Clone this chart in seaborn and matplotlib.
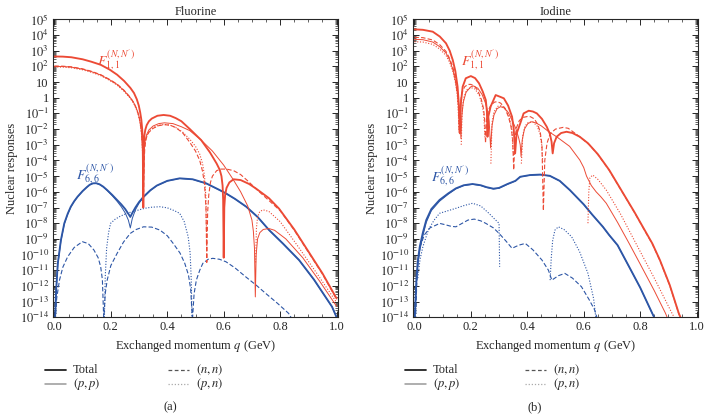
import numpy as np
import pandas as pd
import matplotlib
matplotlib.use("Agg")
import matplotlib.pyplot as plt
import seaborn as sns
from matplotlib.lines import Line2D
from matplotlib.ticker import FixedLocator, MultipleLocator, LogLocator, NullFormatter

# ==========================================
# Data (q in GeV, values as log10 of the response; None = gap)
# ==========================================

# ---- Fluorine, F_{1,1} ----
fl_tot11_q = [0, 0.03, 0.06, 0.1, 0.13, 0.164, 0.195, 0.222, 0.247, 0.269, 0.282, 0.292, 0.299, 0.304, 0.308,
              0.311, 0.313, 0.315, 0.317, 0.319, 0.322, 0.327, 0.335, 0.345, 0.365, 0.387, 0.41, 0.43, 0.45, 0.48,
              0.52, 0.551, 0.575, 0.586, 0.592, 0.596, 0.598, 0.600, 0.602, 0.605, 0.61, 0.62, 0.635, 0.66, 0.69,
              0.715, 0.76, 0.796, 0.85, 0.9, 0.95, 1.0]
fl_tot11_v = [2.63, 2.62, 2.58, 2.45, 2.3, 2.1, 1.8, 1.47, 1.07, 0.63, 0.3, -0.1, -0.5, -0.94, -1.4,
              -2.0, -2.8, -7.0, -3.2, -2.4, -2.05, -1.75, -1.5, -1.33, -1.15, -1.1, -1.15, -1.3, -1.5, -2.0,
              -2.7, -3.48, -4.2, -4.6, -5.0, -5.6, -6.5, -10.2, -7.0, -6.2, -5.75, -5.4, -5.2, -5.25, -5.5,
              -5.8, -6.4, -7.07, -8.4, -9.8, -11.2, -12.8]

fl_pp11_q = [0, 0.03, 0.06, 0.1, 0.13, 0.164, 0.195, 0.222, 0.247, 0.269, 0.282, 0.292, 0.299, 0.304, 0.308,
             0.311, 0.313, 0.315, 0.317, 0.319, 0.322, 0.327, 0.335, 0.35, 0.37, 0.39, 0.42, 0.45, 0.48, 0.52,
             0.56, 0.60, 0.633, 0.66, 0.685, 0.70, 0.705, 0.709, 0.712, 0.715, 0.72, 0.728, 0.74, 0.76, 0.78,
             0.82, 0.88, 0.94, 1.0]
fl_pp11_v = [2.0, 1.99, 1.95, 1.82, 1.67, 1.45, 1.15, 0.85, 0.45, 0.0, -0.35, -0.75, -1.15, -1.6, -2.1,
             -2.8, -3.6, -6.5, -4.0, -3.1, -2.7, -2.35, -2.05, -1.8, -1.65, -1.6, -1.65, -1.85, -2.1, -2.7,
             -3.4, -4.3, -5.2, -6.0, -6.9, -7.8, -8.5, -9.6, -12.7, -10.0, -9.0, -8.6, -8.4, -8.34, -8.45,
             -9.0, -10.2, -11.7, -13.3]

fl_nn11_q = [0, 0.03, 0.06, 0.1, 0.13, 0.164, 0.195, 0.222, 0.247, 0.269, 0.282, 0.292, 0.299, 0.304, 0.308,
             0.311, 0.313, 0.316, 0.318, 0.32, 0.323, 0.327, 0.335, 0.35, 0.37, 0.39, 0.41, 0.43, 0.455, 0.48,
             0.50, 0.515, 0.525, 0.532, 0.537, 0.54, 0.543, 0.547, 0.553, 0.56, 0.575, 0.59, 0.61, 0.635, 0.66,
             0.685, 0.72, 0.76, 0.8, 0.85, 0.9, 0.95, 1.0]
fl_nn11_v = [2.02, 2.01, 1.97, 1.84, 1.69, 1.47, 1.17, 0.87, 0.47, 0.02, -0.33, -0.73, -1.13, -1.58, -2.08,
             -2.75, -3.5, -6.0, -4.2, -3.3, -2.8, -2.5, -2.2, -1.95, -1.78, -1.72, -1.75, -1.9, -2.25, -2.85,
             -3.4, -4.0, -4.7, -5.5, -7.0, -10.5, -7.3, -6.2, -5.4, -5.0, -4.65, -4.55, -4.55, -4.65, -4.9,
             -5.3, -5.9, -6.55, -7.2, -8.45, -9.85, -11.25, -12.85]

fl_pn11_q = [0, 0.03, 0.06, 0.1, 0.13, 0.164, 0.195, 0.222, 0.247, 0.269, 0.282, 0.292, 0.299, 0.304, 0.308,
             0.311, 0.313, 0.315, 0.317, 0.319, 0.322, 0.327, 0.335, 0.35, 0.37, 0.39, 0.41, 0.43, 0.455, 0.48,
             0.50, 0.515, 0.525, 0.532, 0.537, 0.54, None,
             0.713, 0.716, 0.72, 0.728, 0.74, 0.76, 0.8, 0.86, 0.93, 1.0]
fl_pn11_v = [1.96, 1.95, 1.91, 1.78, 1.63, 1.41, 1.11, 0.81, 0.41, -0.04, -0.4, -0.8, -1.2, -1.65, -2.2,
             -2.9, -3.8, -5.5, -3.9, -3.2, -2.8, -2.45, -2.15, -1.9, -1.75, -1.7, -1.75, -1.9, -2.2, -2.65,
             -3.1, -3.6, -4.2, -5.0, -6.4, -9.5, None,
             -10.5, -8.3, -7.6, -7.25, -7.15, -7.25, -7.9, -9.4, -11.2, -13.05]

# ---- Fluorine, F_{6,6} ----
fl_tot66_q = [0.002, 0.006, 0.012, 0.023, 0.035, 0.047, 0.058, 0.07, 0.082, 0.1, 0.115, 0.125, 0.136, 0.148, 0.16,
              0.173, 0.187, 0.205, 0.222, 0.237, 0.251, 0.262, 0.269, 0.276, 0.287, 0.3, 0.316, 0.34, 0.363, 0.4,
              0.444, 0.49, 0.538, 0.586, 0.608, 0.64, 0.68, 0.72, 0.761, 0.81, 0.867, 0.92, 0.984, 1.0]
fl_tot66_v = [-14.2, -12.3, -10.56, -9.08, -8.01, -7.4, -6.95, -6.6, -6.31, -5.95, -5.7, -5.55, -5.46, -5.45, -5.52,
              -5.67, -5.89, -6.2, -6.52, -6.8, -7.1, -7.4, -7.6, -7.35, -7.0, -6.65, -6.31, -5.9, -5.6, -5.3,
              -5.14, -5.2, -5.46, -5.89, -6.1, -6.45, -6.95, -7.6, -8.44, -9.3, -10.35, -11.6, -13.33, -14.0]

fl_pp66_q = [0.002, 0.006, 0.012, 0.023, 0.035, 0.047, 0.058, 0.07, 0.082, 0.1, 0.115, 0.125, 0.136, 0.148, 0.16,
             0.173, 0.187, 0.205, 0.222, 0.237, 0.251, 0.262, 0.269, 0.276, 0.287, 0.3, 0.316, 0.34, 0.363, 0.4,
             0.444, 0.49, 0.538, 0.586, 0.608, 0.64, 0.68, 0.72, 0.761, 0.81, 0.867, 0.92, 0.984, 1.0]
fl_pp66_v = [-14.2, -12.4, -10.65, -9.15, -8.06, -7.44, -6.98, -6.62, -6.33, -5.96, -5.71, -5.56, -5.47, -5.46, -5.53,
             -5.69, -5.92, -6.25, -6.6, -6.95, -7.35, -7.8, -8.3, -7.7, -7.15, -6.72, -6.35, -5.92, -5.61, -5.31,
             -5.15, -5.21, -5.47, -5.9, -6.11, -6.46, -6.96, -7.61, -8.45, -9.31, -10.36, -11.61, -13.34, -14.0]

fl_nn66_q = [0.003, 0.008, 0.018, 0.03, 0.047, 0.07, 0.099, 0.12, 0.14, 0.155, 0.164, 0.17, 0.175, 0.18, 0.187,
             0.2, 0.222, 0.245, 0.269, 0.29, 0.316, 0.345, 0.374, 0.4, 0.421, 0.445, 0.462, 0.475, 0.483, 0.489,
             0.495, 0.503, 0.515, 0.526, 0.545, 0.561, 0.585, 0.608, 0.64, 0.678, 0.715, 0.749, 0.79, 0.83, 0.845]
fl_nn66_v = [-14.2, -12.8, -11.63, -10.8, -10.14, -9.55, -9.18, -9.3, -9.71, -10.2, -10.78, -11.6, -14.2, -12.5, -11.63,
             -10.7, -9.93, -9.2, -8.65, -8.4, -8.23, -8.25, -8.44, -8.8, -9.29, -9.9, -10.56, -11.3, -12.2, -14.2,
             -12.5, -11.63, -11.0, -10.56, -10.3, -10.24, -10.3, -10.46, -10.85, -11.42, -11.95, -12.48, -13.1, -13.75, -14.2]

fl_pn66_q = [0.177, 0.18, 0.185, 0.192, 0.199, 0.215, 0.234, 0.26, 0.29, 0.32, 0.345, 0.374, 0.4, 0.425, 0.444,
             0.46, 0.474, 0.481, 0.485, 0.488]
fl_pn66_v = [-14.2, -11.5, -9.6, -8.6, -8.01, -7.75, -7.55, -7.35, -7.2, -7.05, -6.98, -6.95, -7.02, -7.2, -7.37,
             -7.9, -8.86, -9.9, -11.63, -14.2]

# ---- Iodine, F_{1,1} ----
io_tot11_q = [0, 0.03, 0.065, 0.09, 0.112, 0.125, 0.136, 0.145, 0.153, 0.157, 0.161, 0.165, 0.171, 0.182, 0.2,
              0.215, 0.229, 0.242, 0.253, 0.257, 0.259, 0.262, 0.27, 0.288, 0.305, 0.317, 0.332, 0.346, 0.352, 0.357,
              0.362, 0.375, 0.387, 0.405, 0.42, 0.434, 0.452, 0.469, 0.48, 0.486, 0.49, 0.495, 0.504, 0.52, 0.539,
              0.56, 0.586, 0.615, 0.65, 0.69, 0.726, 0.78, 0.81, 0.843, 0.87, 0.905, 0.937, 0.95]
io_tot11_v = [4.36, 4.33, 4.21, 3.9, 3.47, 3.0, 2.4, 1.7, 0.7, -0.3, -2.27, -0.3, 0.7, 1.24, 1.38,
              1.25, 0.92, 0.4, -0.15, -0.9, -2.49, -1.2, -0.57, 0.17, 0.05, -0.04, -0.5, -1.21, -2.0, -3.55,
              -2.3, -1.64, -1.0, -0.83, -0.88, -1.0, -1.35, -1.85, -2.3, -2.8, -3.55, -2.9, -2.49, -2.25, -2.17,
              -2.25, -2.49, -2.9, -3.6, -4.6, -5.68, -7.3, -8.25, -9.29, -10.35, -11.95, -13.75, -14.3]

io_pp11_q = [0, 0.03, 0.065, 0.09, 0.112, 0.125, 0.136, 0.145, 0.153, 0.158, 0.162, 0.165, 0.168, 0.173, 0.183,
             0.2, 0.21, 0.225, 0.24, 0.252, 0.26, 0.265, 0.27, 0.275, 0.282, 0.293, 0.305, 0.318, 0.333, 0.348,
             0.36, 0.37, 0.375, 0.378, 0.382, 0.39, 0.402, 0.416, 0.43, 0.45, 0.475, 0.504, 0.55, 0.586, 0.6,
             0.61, 0.627, 0.644, 0.66, 0.68, 0.72, 0.761, 0.8, 0.85, 0.89, 0.9]
io_pp11_v = [3.72, 3.7, 3.55, 3.25, 2.85, 2.4, 1.8, 1.1, 0.2, -0.6, -1.6, -2.6, -1.2, -0.3, 0.35,
             0.7, 0.75, 0.6, 0.2, -0.35, -0.9, -1.5, -3.2, -1.8, -1.1, -0.7, -0.57, -0.65, -0.95, -1.5,
             -2.0, -2.6, -3.0, -3.76, -2.7, -2.0, -1.65, -1.53, -1.6, -1.8, -2.15, -2.49, -3.1, -3.97, -4.45,
             -5.0, -5.6, -6.0, -6.3, -6.73, -7.95, -9.29, -10.6, -12.3, -13.75, -14.2]

io_nn11_q = [0, 0.03, 0.065, 0.09, 0.112, 0.125, 0.136, 0.145, 0.151, 0.155, 0.159, 0.163, 0.168, 0.178, 0.19,
             0.2, 0.212, 0.225, 0.237, 0.245, 0.249, 0.252, 0.256, 0.262, 0.272, 0.284, 0.294, 0.306, 0.32, 0.333,
             0.342, 0.348, 0.352, 0.356, 0.362, 0.372, 0.386, 0.4, 0.411, 0.425, 0.437, 0.446, 0.452, 0.457, 0.462,
             0.47, 0.481, 0.5, 0.527, 0.545, 0.562, 0.59, 0.62, 0.65, 0.69, 0.726, 0.78, 0.81, 0.843, 0.87, 0.905,
             0.937, 0.95]
io_nn11_v = [3.85, 3.83, 3.68, 3.38, 2.95, 2.5, 1.95, 1.3, 0.6, -0.3, -2.1, -0.4, 0.3, 0.7, 0.85,
             0.85, 0.75, 0.45, -0.1, -0.7, -1.4, -2.9, -1.4, -0.8, -0.45, -0.28, -0.25, -0.35, -0.65, -1.2,
             -1.8, -2.6, -4.6, -2.6, -1.9, -1.45, -1.25, -1.2, -1.21, -1.35, -1.7, -2.2, -3.0, -7.2, -4.0,
             -2.9, -2.3, -2.0, -1.89, -1.95, -2.17, -2.55, -3.0, -3.62, -4.62, -5.7, -7.32, -8.28, -9.32, -10.38, -11.98,
             -13.78, -14.3]

io_pn11_q = [0, 0.03, 0.065, 0.09, 0.112, 0.125, 0.136, 0.145, 0.151, 0.155, 0.158, None,
             0.166, 0.169, 0.175, 0.185, 0.2, 0.215, 0.23, 0.24, 0.246, 0.25, None,
             0.271, 0.275, 0.282, 0.295, 0.31, 0.325, 0.337, 0.345, 0.35, None,
             0.379, 0.384, 0.392, 0.405, 0.42, 0.435, 0.445, 0.451, 0.455, None,
             0.615, 0.618, 0.622, 0.632, 0.65, 0.68, 0.73, 0.785, 0.85, 0.913, 0.93]
io_pn11_v = [3.57, 3.55, 3.4, 3.1, 2.7, 2.25, 1.7, 1.0, 0.3, -0.6, -2.3, None,
             -3.0, -0.9, 0.0, 0.5, 0.65, 0.55, 0.15, -0.45, -1.1, -2.6, None,
             -4.2, -1.6, -0.9, -0.55, -0.5, -0.75, -1.3, -2.0, -3.5, None,
             -4.2, -2.4, -1.8, -1.55, -1.55, -1.8, -2.3, -3.0, -4.2, None,
             -8.0, -6.0, -5.1, -4.93, -5.2, -5.89, -7.4, -9.29, -11.5, -13.75, -14.3]

# ---- Iodine, F_{6,6} ----
io_tot66_q = [0.001, 0.004, 0.007, 0.012, 0.019, 0.03, 0.042, 0.06, 0.089, 0.12, 0.147, 0.175, 0.206, 0.235, 0.255,
              0.28, 0.3, 0.33, 0.358, 0.375, 0.41, 0.446, 0.48, 0.515, 0.551, 0.6, 0.63, 0.668, 0.69, 0.72, 0.761,
              0.8, 0.843, 0.855]
io_tot66_v = [-14.2, -12.8, -11.6, -10.4, -9.5, -8.6, -7.8, -7.1, -6.52, -6.1, -5.78, -5.58, -5.5, -5.58, -5.7,
              -5.8, -5.75, -5.5, -5.3, -5.04, -4.93, -4.9, -4.98, -5.3, -5.89, -6.8, -7.45, -8.23, -8.75, -9.4, -10.78,
              -12.1, -13.75, -14.2]

io_pp66_q = [0.001, 0.004, 0.007, 0.012, 0.019, 0.03, 0.042, 0.06, 0.089, 0.12, 0.147, 0.175, 0.206, 0.235, 0.255,
             0.28, 0.3, 0.33, 0.358, 0.375, 0.41, 0.446, 0.48, 0.515, 0.551, 0.6, 0.63, 0.668, 0.69, 0.72, 0.761,
             0.8, 0.843, 0.855]
io_pp66_v = [-14.2, -13.1, -11.9, -10.7, -9.75, -8.8, -7.95, -7.2, -6.6, -6.15, -5.81, -5.6, -5.52, -5.6, -5.72,
             -5.82, -5.77, -5.52, -5.31, -5.05, -4.94, -4.91, -4.99, -5.31, -5.9, -6.81, -7.46, -8.24, -8.76, -9.41, -10.79,
             -12.11, -13.76, -14.2]

io_nn66_q = [0.004, 0.008, 0.013, 0.02, 0.035, 0.055, 0.077, 0.089, 0.11, 0.13, 0.147, 0.17, 0.19, 0.212, 0.235,
             0.253, 0.28, 0.3, 0.325, 0.346, 0.37, 0.393, 0.42, 0.452, 0.475, 0.487, 0.51, 0.533, 0.56, 0.592,
             0.62, 0.639, 0.65]
io_nn66_v = [-14.2, -12.0, -10.35, -9.5, -8.75, -8.3, -8.12, -8.01, -8.1, -8.2, -8.23, -8.0, -7.8, -7.74, -7.85,
             -8.01, -8.3, -8.65, -9.15, -9.6, -9.4, -9.29, -9.7, -10.35, -11.0, -11.63, -11.35, -11.2, -11.5, -12.05,
             -12.9, -13.54, -14.2]

io_pn66_q = [0.012, 0.02, 0.03, 0.05, 0.07, 0.089, 0.12, 0.147, 0.175, 0.206, 0.235, 0.264, 0.285, 0.3, 0.302, None,
             0.481, 0.485, 0.49, 0.498, 0.51, 0.53, 0.557, 0.585, 0.615, 0.635, 0.644]
io_pn66_v = [-11.5, -10.3, -9.5, -8.4, -7.8, -7.37, -7.2, -7.05, -6.88, -6.73, -6.9, -7.37, -7.75, -8.01, -10.78, None,
             -11.63, -10.2, -9.1, -8.44, -8.23, -8.4, -8.86, -9.8, -11.2, -12.8, -14.2]

# ==========================================
# Style
# ==========================================
sns.set_style("ticks")
plt.rcParams["font.family"] = ["Liberation Serif", "DejaVu Serif"]
plt.rcParams["mathtext.fontset"] = "stix"
plt.rcParams["axes.linewidth"] = 0.8

RED = "#ec4a35"
BLUE = "#2d56a6"
STYLES = {
    "tot": dict(linewidth=1.35, linestyle="-"),
    "pp": dict(linewidth=0.7, linestyle="-"),
    "nn": dict(linewidth=0.8, linestyle=(0, (4, 2))),
    "pn": dict(linewidth=0.8, linestyle=(0, (1, 1.5))),
}
FS = 9


def draw_curve(ax, qs, vs, color, kind):
    # split on None gaps and plot each piece with seaborn
    pieces, cur = [], []
    for q, v in zip(qs, vs):
        if v is None:
            if cur:
                pieces.append(cur)
            cur = []
        else:
            cur.append((q, 10.0 ** v))
    if cur:
        pieces.append(cur)
    for p in pieces:
        df = pd.DataFrame(p, columns=["q", "val"])
        sns.lineplot(data=df, x="q", y="val", ax=ax, color=color, sort=False,
                     estimator=None, **STYLES[kind])


def style_axes(ax, title):
    ax.set_yscale("log")
    ax.set_xlim(-0.005, 1.005)
    ax.set_ylim(1e-14, 1e5)
    decades = list(range(-14, 6))
    labels = []
    for k in decades:
        if k == 0:
            labels.append("1")
        elif k == 1:
            labels.append("10")
        else:
            labels.append(r"$10^{%d}$" % k)
    ax.yaxis.set_major_locator(FixedLocator([10.0 ** k for k in decades]))
    ax.set_yticklabels(labels)
    ax.yaxis.set_minor_locator(LogLocator(base=10, subs=np.arange(2, 10), numticks=200))
    ax.yaxis.set_minor_formatter(NullFormatter())
    ax.xaxis.set_minor_locator(MultipleLocator(0.05))
    ax.set_xticks([0, 0.2, 0.4, 0.6, 0.8, 1.0])
    ax.set_xticklabels(["0.0", "0.2", "0.4", "0.6", "0.8", "1.0"])
    ax.tick_params(which="both", direction="in", top=True, right=True, labelsize=FS, pad=3)
    ax.tick_params(which="major", length=4, width=0.7)
    ax.tick_params(which="minor", length=2.2, width=0.5)
    ax.set_title(title, fontsize=FS, pad=3)
    ax.set_xlabel(r"Exchanged momentum $q$ (GeV)", fontsize=FS, labelpad=3)
    ax.set_ylabel("Nuclear responses", fontsize=FS, labelpad=1)


W, H = 709, 415
fig = plt.figure(figsize=(W / 100, H / 100), dpi=100)
ax1 = fig.add_axes([53 / W, 1 - 317.3 / H, 285 / W, 298 / H])
ax2 = fig.add_axes([413 / W, 1 - 317.3 / H, 285 / W, 298 / H])

# Fluorine
draw_curve(ax1, fl_nn66_q, fl_nn66_v, BLUE, "nn")
draw_curve(ax1, fl_pn66_q, fl_pn66_v, BLUE, "pn")
draw_curve(ax1, fl_pp66_q, fl_pp66_v, BLUE, "pp")
draw_curve(ax1, fl_tot66_q, fl_tot66_v, BLUE, "tot")
draw_curve(ax1, fl_nn11_q, fl_nn11_v, RED, "nn")
draw_curve(ax1, fl_pn11_q, fl_pn11_v, RED, "pn")
draw_curve(ax1, fl_pp11_q, fl_pp11_v, RED, "pp")
draw_curve(ax1, fl_tot11_q, fl_tot11_v, RED, "tot")

# Iodine
draw_curve(ax2, io_nn66_q, io_nn66_v, BLUE, "nn")
draw_curve(ax2, io_pn66_q, io_pn66_v, BLUE, "pn")
draw_curve(ax2, io_pp66_q, io_pp66_v, BLUE, "pp")
draw_curve(ax2, io_tot66_q, io_tot66_v, BLUE, "tot")
draw_curve(ax2, io_nn11_q, io_nn11_v, RED, "nn")
draw_curve(ax2, io_pn11_q, io_pn11_v, RED, "pn")
draw_curve(ax2, io_pp11_q, io_pp11_v, RED, "pp")
draw_curve(ax2, io_tot11_q, io_tot11_v, RED, "tot")

style_axes(ax1, "Fluorine")
style_axes(ax2, "Iodine")

lab11 = r"$F_{1,1}^{(N,N^{\prime})}$"
lab66 = r"$F_{6,6}^{(N,N^{\prime})}$"
ax1.text(0.221, 0.863, lab11, transform=ax1.transAxes, color=RED, fontsize=10, ha="center", va="center")
ax1.text(0.147, 0.481, lab66, transform=ax1.transAxes, color=BLUE, fontsize=10, ha="center", va="center")
ax2.text(0.235, 0.866, lab11, transform=ax2.transAxes, color=RED, fontsize=10, ha="center", va="center")
ax2.text(0.13, 0.474, lab66, transform=ax2.transAxes, color=BLUE, fontsize=10, ha="center", va="center")

# ==========================================
# Legends under each panel (drawn in figure pixels)
# ==========================================
LEG = [("Total", dict(color="#222222", linewidth=1.3, linestyle="-")),
       (r"$(p, p)$", dict(color="#999999", linewidth=1.1, linestyle="-")),
       (r"$(n, n)$", dict(color="#555555", linewidth=0.9, linestyle=(0, (3, 2)))),
       (r"$(p, n)$", dict(color="#aaaaaa", linewidth=0.9, linestyle=(0, (1, 1.5))))]


def add_legend(x0, x1, tag, tag_x):
    rows = [370, 384]
    for i, (text, kw) in enumerate(LEG):
        col_x = x0 if i < 2 else x1
        y = 1 - rows[i % 2] / H
        fig.add_artist(Line2D([col_x / W, (col_x + 21) / W], [y, y], transform=fig.transFigure, **kw))
        fig.text((col_x + 28) / W, y, text, fontsize=FS, va="center", ha="left")
    fig.text(tag_x / W, 1 - 407 / H, tag, fontsize=FS, ha="center", va="center")


add_legend(45, 168, "(a)", 170)
add_legend(405, 525, "(b)", 535)

fig.savefig("out.png", dpi=100)
